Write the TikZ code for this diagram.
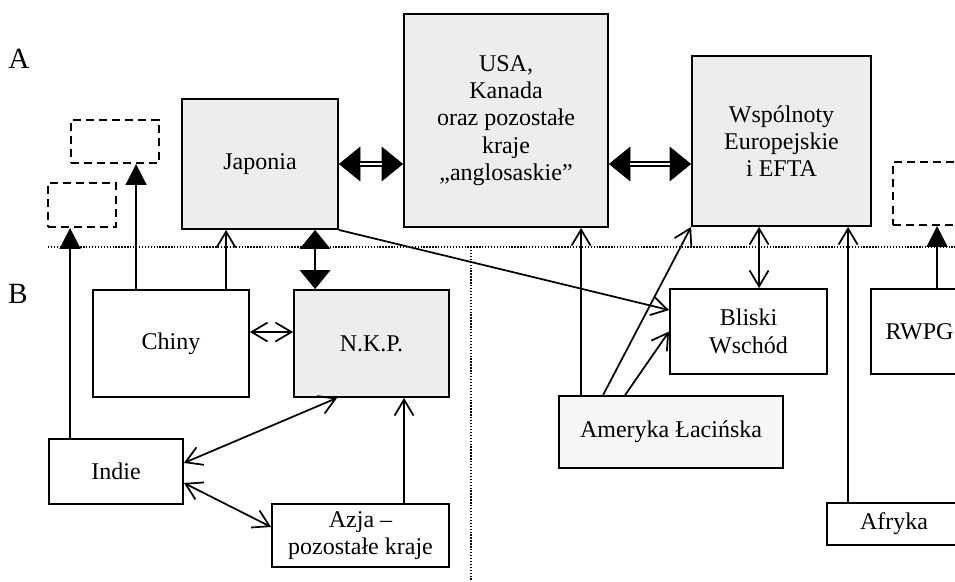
\documentclass[tikz,border=0pt]{standalone}
\usepackage{fontspec}
\setmainfont{Liberation Serif}
\usetikzlibrary{arrows.meta,positioning,calc}
\definecolor{boxfill}{HTML}{EDEDED}
\definecolor{boxfilll}{HTML}{F7F7F7}

\begin{document}
\begin{tikzpicture}[
 x=0.75pt, y=-0.75pt,
 box/.style={draw=black, line width=1.4pt, align=center, inner sep=2pt,
             font=\fontsize{18}{20.5}\selectfont},
 grey/.style={box, fill=boxfill},
 ghost/.style={draw=black, line width=1.5pt, dash pattern=on 6pt off 3.8pt},
 lbl/.style={font=\fontsize{22}{24}\selectfont},
 sep/.style={line width=1.1pt, dash pattern=on 1pt off 1.2pt},
 opn/.style={-{Straight Barb[length=4.2mm,width=5mm]}, line width=1.3pt},
 opn2/.style={{Straight Barb[length=4.2mm,width=5mm]}-{Straight Barb[length=4.2mm,width=5mm]}, line width=1.3pt},
 tri/.style={-{Triangle[length=5.5mm,width=5.5mm]}, line width=1.3pt},
 big/.style={{Triangle[length=5mm,width=8mm]}-{Triangle[length=5mm,width=8mm]}, line width=1.8pt},
 dbl/.style={{Triangle[length=16pt,width=26pt]}-{Triangle[length=16pt,width=26pt]}, line width=0.4pt,
             postaction={draw, -, double, double distance=2.2pt, line width=1.2pt,
                         shorten <=15.8pt, shorten >=15.8pt}},
]
 \useasboundingbox (0,0) rectangle (955,581);

 % levels A and B
 \node[lbl] (labA) at (19,59) {A};
 \node[lbl] (labB) at (18,294) {B};
 \draw[sep] (48,247) -- (955,247);
 \draw[sep] (471,247) -- (471,581);

 % level A
 \node[grey, minimum width=117pt, minimum height=97.5pt] (jap) at (260,164) {Japonia};
 \node[grey, minimum width=153pt, minimum height=159.75pt] (usa) at (506,120.5)
   {USA,\\ Kanada\\ oraz pozostałe\\ kraje\\ „anglosaskie”};
 \node[grey, minimum width=134.25pt, minimum height=127.5pt] (wsp) at (781.5,141)
   {Wspólnoty\\ Europejskie\\ i EFTA};
 \node[ghost, minimum width=66pt, minimum height=32.25pt] (ghostA) at (115,141.5) {};
 \node[ghost, minimum width=51pt, minimum height=33pt] (ghostB) at (82,205) {};
 \node[ghost, minimum width=72.75pt, minimum height=47.25pt] (ghostC) at (941.5,193.5) {};

 % level B
 \node[box, minimum width=117pt, minimum height=80.25pt] (chiny) at (171,343.5) {Chiny};
 \node[grey, minimum width=116.25pt, minimum height=80.25pt] (nkp) at (371.5,343.5) {N.K.P.};
 \node[box, minimum width=100.5pt, minimum height=48.75pt] (indie) at (116,471.5) {Indie};
 \node[box, minimum width=132.75pt, minimum height=47.25pt] (azja) at (360.5,535.5)
   {Azja --\\ pozostałe kraje};
 \node[box, minimum width=117.75pt, minimum height=63.75pt] (bliski) at (748.5,331.5)
   {Bliski\\ Wschód};
 \node[box, minimum width=72.75pt, minimum height=63.75pt] (rwpg) at (919.5,331.5) {RWPG};
 \node[box, fill=boxfilll, minimum width=168pt, minimum height=54pt] (ameryka) at (671,432)
   {Ameryka Łacińska};
 \node[box, minimum width=100.5pt, minimum height=31.5pt] (afryka) at (894,524) {Afryka};

 % strong links in A
 \draw[dbl] (jap.east) -- (jap.east -| usa.west);
 \draw[dbl] (usa.east |- jap.east) -- (wsp.west |- jap.east);
 \draw[big] ([xshift=16.5pt]nkp.north west) -- ([xshift=16.5pt]nkp.north west |- jap.south);

 % links from B upwards
 \draw[tri] ([xshift=33pt]chiny.north west) -- ([xshift=33pt]chiny.north west |- ghostA.south);
 \draw[tri] ([xshift=16.5pt]indie.north west) -- ([xshift=16.5pt]indie.north west |- ghostB.south);
 \draw[tri] ([xshift=50.25pt]rwpg.north west) -- ([xshift=50.25pt]rwpg.north west |- ghostC.south);
 \draw[opn] ([xshift=100.5pt]chiny.north west) -- ([xshift=100.5pt]chiny.north west |- jap.south);
 \draw[opn] ([xshift=17.25pt]ameryka.north west) -- ([xshift=17.25pt]ameryka.north west |- usa.south);
 \draw[opn] ([xshift=33.75pt]ameryka.north west) -- (wsp.south west);
 \draw[opn] ([xshift=16.5pt]afryka.north west) -- ([xshift=16.5pt]afryka.north west |- wsp.south);
 \draw[opn2] ([xshift=51pt]wsp.south west) -- ([xshift=51pt]wsp.south west |- bliski.north);

 % links inside B
 \draw[opn2] ([yshift=8.6pt]chiny.east) -- ([yshift=8.6pt]chiny.east -| nkp.west);
 \draw[opn2] ([yshift=6.4pt]indie.east) -- ([xshift=33pt]nkp.south west);
 \draw[opn2] ([yshift=-8.6pt]indie.east) -- ([yshift=6.4pt]azja.west);
 \draw[opn] ([xshift=99.75pt]azja.north west) -- ([xshift=99.75pt]azja.north west |- nkp.south);
 \draw[opn] (jap.south east) -- ([yshift=16.1pt]bliski.west);
 \draw[opn] ([xshift=50.25pt]ameryka.north west) -- (bliski.west);
\end{tikzpicture}
\end{document}
